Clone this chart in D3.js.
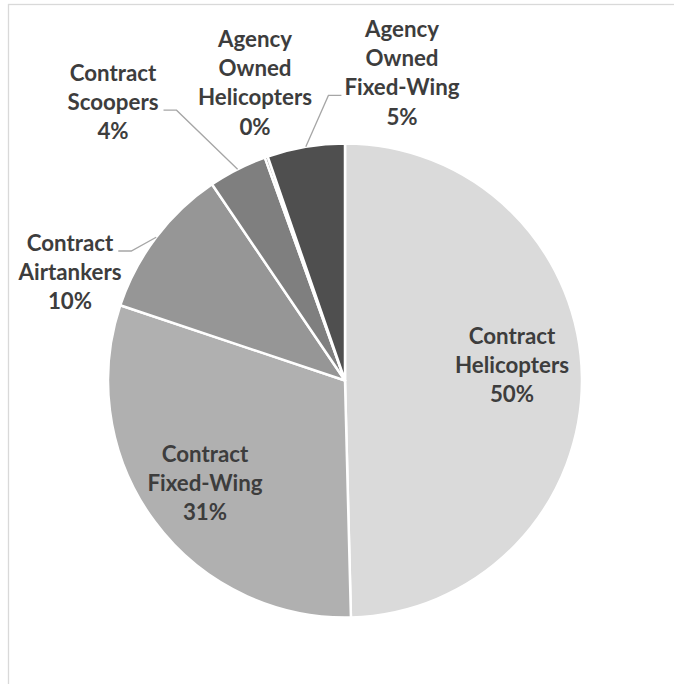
<!DOCTYPE html>
<html>
  <head>
    <meta charset="utf-8">
    <script type="text/javascript" src="https://cdn.jsdelivr.net/npm/d3@7/dist/d3.min.js"></script>
    <style>
      body { margin: 0; background: #fff; }
      .lbl { font-family: Lato, "Open Sans", sans-serif; font-weight: bold; font-size: 22.3px; fill: #3d3d3d; }
    </style>
  </head>
  <body>
    <script type="text/javascript">
      // Data (clockwise from 12 o'clock)
      var categories = [
        ["Contract", "Helicopters"],
        ["Contract", "Fixed-Wing"],
        ["Contract", "Airtankers"],
        ["Contract", "Scoopers"],
        ["Agency", "Owned", "Helicopters"],
        ["Agency", "Owned", "Fixed-Wing"]
      ];
      var values = [49.7, 30.6, 10.4, 4.0, 0.2, 5.3];
      var colors = ["#dadada", "#b0b0b0", "#969696", "#7f7f7f", "#666666", "#4f4f4f"];

      // Label layout: centre x, first baseline, leader attach line, leader side
      var labelLayout = [
        { x: 512, y: 344, attach: null },
        { x: 205, y: 462, attach: null },
        { x: 70,  y: 251, attach: 0, side: "right" },
        { x: 113, y: 81,  attach: 1, side: "right" },
        { x: 255, y: 47,  attach: null },
        { x: 402, y: 37,  attach: 2, side: "left" }
      ];
      var lineStep = 29.2;

      var width = 674;
      var height = 684;
      var cx = 345, cy = 380.5, radius = 237;

      var svg = d3.select("body")
                  .append("svg")
                  .attr("width", width)
                  .attr("height", height);

      // Chart area border (runs off the right and bottom edges)
      svg.append("rect")
         .attr("x", 8.5)
         .attr("y", 4.5)
         .attr("width", 700)
         .attr("height", 700)
         .attr("fill", "none")
         .attr("stroke", "#d9d9d9")
         .attr("stroke-width", 1.3);

      var total = d3.sum(values);
      var pie = d3.pie().sort(null).value(function(d) { return d; });
      var arcs = pie(values);
      var arc = d3.arc().innerRadius(0).outerRadius(radius);
      var edge = d3.arc().innerRadius(radius).outerRadius(radius);

      var g = svg.append("g")
                 .attr("transform", "translate(" + cx + "," + cy + ")");

      g.selectAll("path")
       .data(arcs)
       .enter()
       .append("path")
       .attr("d", arc)
       .attr("fill", function(d, i) { return colors[i]; })
       .attr("stroke", "#fff")
       .attr("stroke-width", 2.5)
       .attr("stroke-linejoin", "round");

      // Labels
      arcs.forEach(function(d, i) {
        var lay = labelLayout[i];
        var lines = categories[i].concat([Math.round(values[i] / total * 100) + "%"]);
        var text = svg.append("text")
                      .attr("class", "lbl")
                      .attr("text-anchor", "middle");
        var spans = [];
        lines.forEach(function(t, k) {
          spans.push(text.append("tspan")
                         .attr("x", lay.x)
                         .attr("y", lay.y + k * lineStep)
                         .text(t));
        });

        // Leader line from label to slice edge
        if (lay.attach !== null) {
          var w = spans[lay.attach].node().getComputedTextLength();
          var ly = lay.y + lay.attach * lineStep;
          var sx = lay.side === "right" ? lay.x + w / 2 + 5 : lay.x - w / 2 - 3;
          var ex = lay.side === "right" ? sx + 13 : sx - 13;
          var c = edge.centroid(d);
          svg.append("polyline")
             .attr("points", [[sx, ly], [ex, ly], [cx + c[0], cy + c[1]]].join(" "))
             .attr("fill", "none")
             .attr("stroke", "#a6a6a6")
             .attr("stroke-width", 1.3);
        }
      });
    </script>
  </body>
</html>
